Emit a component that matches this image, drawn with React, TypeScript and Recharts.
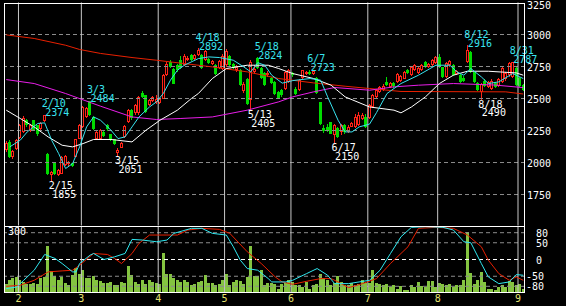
import React from 'react';
import { Bar, ComposedChart, Line, ReferenceDot, ReferenceLine, XAxis, YAxis } from 'recharts';

// daily candles, late Jan .. early Sep
const opens = [
  2097, 2161, 2044, 2109, 2188, 2239, 2330, 2247, 2330, 2291,
  2258, 2325, 2070, 1901, 1997, 1901, 1914, 1979, 1987, 1995,
  2044, 2187, 2278, 2356, 2480, 2356, 2187, 2187, 2240, 2290,
  2220, 2180, 2075, 2117, 2200, 2317, 2409, 2383, 2383, 2540,
  2526, 2448, 2480, 2470, 2465, 2500, 2682, 2786, 2734, 2760,
  2799, 2765, 2800, 2840, 2810, 2838, 2838, 2799, 2810, 2770,
  2760, 2740, 2730, 2760, 2830, 2770, 2720, 2720, 2560, 2650,
  2487, 2705, 2815, 2737, 2698, 2680, 2659, 2630, 2552, 2565,
  2578, 2630, 2700, 2578, 2565, 2659, 2690, 2710, 2690, 2659,
  2470, 2270, 2280, 2315, 2213, 2268, 2235, 2291, 2240, 2280,
  2278, 2291, 2340, 2356, 2346, 2434, 2513, 2549, 2570, 2627,
  2590, 2620, 2627, 2640, 2656, 2721, 2682, 2721, 2700, 2721,
  2784, 2745, 2760, 2776, 2823, 2745, 2668, 2760, 2760, 2690,
  2682, 2660, 2787, 2860, 2705, 2620, 2551, 2640, 2590, 2575,
  2620, 2600, 2630, 2650, 2680, 2668, 2737, 2659, 2604,
];
const highs = [
  2170, 2175, 2100, 2185, 2300, 2360, 2340, 2300, 2335, 2295,
  2318, 2374, 2075, 1935, 2000, 1950, 2050, 2060, 2015, 2000,
  2185, 2300, 2445, 2430, 2484, 2360, 2245, 2260, 2245, 2300,
  2225, 2185, 2110, 2160, 2290, 2415, 2415, 2455, 2520, 2560,
  2530, 2495, 2520, 2530, 2505, 2690, 2785, 2800, 2740, 2770,
  2830, 2845, 2830, 2850, 2850, 2892, 2845, 2880, 2820, 2800,
  2770, 2800, 2845, 2890, 2840, 2780, 2760, 2730, 2630, 2660,
  2800, 2760, 2824, 2745, 2710, 2715, 2670, 2640, 2560, 2575,
  2715, 2730, 2710, 2590, 2650, 2726, 2715, 2723, 2722, 2670,
  2475, 2290, 2300, 2320, 2300, 2280, 2300, 2300, 2290, 2320,
  2380, 2395, 2385, 2380, 2455, 2535, 2575, 2595, 2610, 2669,
  2630, 2630, 2700, 2685, 2715, 2730, 2750, 2770, 2750, 2770,
  2795, 2780, 2805, 2830, 2851, 2750, 2785, 2800, 2770, 2725,
  2690, 2675, 2916, 2870, 2715, 2630, 2625, 2650, 2640, 2650,
  2630, 2660, 2745, 2710, 2785, 2787, 2745, 2670, 2615,
];
const lows = [
  2085, 2035, 2025, 2100, 2180, 2230, 2280, 2240, 2245, 2210,
  2250, 2318, 1905, 1855, 1900, 1892, 1910, 1975, 1975, 1962,
  2040, 2180, 2270, 2345, 2360, 2255, 2180, 2180, 2200, 2250,
  2165, 2135, 2051, 2110, 2195, 2310, 2335, 2375, 2375, 2505,
  2390, 2440, 2470, 2460, 2455, 2495, 2675, 2740, 2610, 2710,
  2730, 2755, 2790, 2790, 2800, 2830, 2730, 2790, 2770, 2760,
  2680, 2730, 2720, 2750, 2750, 2730, 2710, 2595, 2540, 2450,
  2405, 2690, 2730, 2650, 2595, 2670, 2610, 2530, 2495, 2515,
  2570, 2620, 2670, 2530, 2555, 2650, 2680, 2685, 2680, 2535,
  2295, 2230, 2240, 2220, 2150, 2195, 2215, 2225, 2230, 2275,
  2270, 2285, 2330, 2270, 2340, 2425, 2505, 2540, 2560, 2595,
  2580, 2585, 2620, 2630, 2650, 2690, 2675, 2715, 2695, 2715,
  2740, 2740, 2755, 2770, 2740, 2660, 2660, 2750, 2675, 2680,
  2625, 2630, 2780, 2700, 2620, 2560, 2490, 2590, 2580, 2565,
  2580, 2590, 2620, 2640, 2670, 2660, 2600, 2590, 2560,
];
const closes = [
  2153, 2044, 2090, 2174, 2291, 2344, 2291, 2291, 2252, 2220,
  2310, 2370, 1914, 1927, 1908, 1940, 2044, 2049, 2005, 1970,
  2180, 2291, 2434, 2422, 2375, 2265, 2239, 2252, 2210, 2260,
  2174, 2143, 2100, 2153, 2283, 2409, 2344, 2448, 2513, 2513,
  2395, 2487, 2510, 2500, 2495, 2682, 2773, 2747, 2617, 2721,
  2740, 2835, 2815, 2800, 2840, 2877, 2737, 2870, 2780, 2790,
  2690, 2790, 2835, 2870, 2760, 2740, 2745, 2604, 2610, 2460,
  2786, 2730, 2740, 2659, 2604, 2700, 2620, 2539, 2500, 2526,
  2708, 2721, 2680, 2539, 2643, 2721, 2705, 2695, 2716, 2541,
  2300, 2250, 2250, 2226, 2291, 2200, 2291, 2235, 2278, 2305,
  2356, 2370, 2375, 2278, 2448, 2526, 2565, 2588, 2600, 2604,
  2620, 2595, 2693, 2675, 2708, 2698, 2745, 2760, 2740, 2760,
  2745, 2770, 2799, 2823, 2745, 2668, 2776, 2790, 2682, 2715,
  2630, 2640, 2877, 2708, 2630, 2570, 2617, 2600, 2630, 2640,
  2590, 2650, 2737, 2700, 2776, 2784, 2604, 2596, 2565,
];
const volumes = [
  42, 60, 65, 72, 57, 50, 42, 42, 45, 42,
  65, 72, 210, 99, 75, 57, 72, 45, 35, 80,
  110, 87, 102, 69, 69, 75, 57, 54, 45, 45,
  50, 35, 35, 50, 45, 120, 80, 50, 42, 57,
  39, 60, 50, 45, 39, 180, 87, 84, 65, 60,
  50, 57, 50, 35, 42, 50, 52, 80, 45, 45,
  35, 39, 60, 84, 35, 50, 60, 54, 42, 72,
  210, 75, 75, 102, 35, 45, 45, 42, 20, 42,
  45, 60, 50, 35, 35, 27, 50, 20, 35, 42,
  84, 65, 60, 35, 45, 75, 50, 35, 35, 45,
  35, 39, 57, 45, 45, 102, 45, 42, 35, 39,
  27, 35, 20, 30, 12, 12, 35, 27, 50, 30,
  27, 52, 52, 27, 45, 39, 35, 39, 27, 35,
  35, 60, 273, 90, 42, 57, 94, 50, 20, 20,
  15, 27, 35, 27, 52, 50, 35, 42, 20,
];

// moving averages as [day index, price]
const maShort: [number, number][] = [
  [1, 2122], [4, 2174], [6, 2239], [9, 2305], [11, 2310], [13, 2174], [15, 2070], [17, 1953],
  [19, 1992], [21, 2122], [23, 2278], [25, 2356], [27, 2330], [30, 2252], [32, 2187], [34, 2200],
  [36, 2278], [38, 2356], [41, 2434], [43, 2474], [45, 2541], [47, 2643], [49, 2721], [51, 2760],
  [55, 2812], [58, 2825], [61, 2820], [65, 2799], [68, 2747], [70, 2708], [72, 2780], [74, 2760],
  [76, 2682], [79, 2620], [82, 2640], [87, 2656], [90, 2643], [92, 2513], [95, 2330], [97, 2239],
  [99, 2239], [101, 2278], [104, 2300], [106, 2390], [109, 2539], [113, 2617], [118, 2682],
  [123, 2760], [127, 2760], [129, 2708], [131, 2682], [133, 2734], [136, 2669], [138, 2617],
  [141, 2630], [145, 2695], [148, 2656],
];
const maMid: [number, number][] = [
  [0, 2409], [4, 2344], [8, 2278], [12, 2200], [16, 2135], [19, 2122], [22, 2148], [25, 2180],
  [30, 2180], [36, 2161], [40, 2252], [44, 2330], [49, 2409], [53, 2500], [55, 2539], [59, 2656],
  [63, 2734], [69, 2760], [75, 2760], [78, 2734], [82, 2695], [88, 2656], [93, 2604], [97, 2513],
  [104, 2434], [111, 2409], [113, 2388], [116, 2434], [120, 2513], [124, 2617], [128, 2682],
  [132, 2713], [138, 2713], [146, 2700], [148, 2682],
];
const maLong: [number, number][] = [
  [0, 2648], [8, 2617], [17, 2539], [27, 2440], [36, 2356], [43, 2336], [50, 2344], [59, 2356],
  [69, 2409], [78, 2474], [82, 2513], [88, 2552], [94, 2586], [104, 2565], [111, 2591],
  [118, 2604], [128, 2617], [140, 2605], [148, 2585],
];
const maYear: [number, number][] = [
  [0, 2997], [8, 2969], [17, 2916], [21, 2883], [27, 2852], [36, 2820], [43, 2799], [50, 2776],
  [59, 2747], [69, 2708], [78, 2656], [88, 2622], [97, 2596], [104, 2578], [113, 2555],
  [143, 2552], [148, 2535],
];

// oscillator panel, [day index, value]
const oscFast: [number, number][] = [
  [0, -87], [3, -82], [5, -62], [8, -32], [11, 15], [14, 3], [16, -12], [19, -37], [20, -37],
  [21, -12], [24, 13], [25, 18], [28, 0], [31, 8], [34, 18], [36, 60], [39, 58], [43, 53],
  [46, 58], [48, 78], [53, 93], [56, 93], [59, 78], [63, 73], [65, 38], [67, -2], [69, -27],
  [72, -32], [75, -57], [76, -67], [80, -67], [82, -62], [86, -42], [89, -27], [92, -47],
  [94, -72], [98, -72], [101, -67], [104, -62], [107, -32], [110, 18], [113, 68], [116, 96],
  [120, 98], [125, 96], [128, 88], [131, 53], [133, 50], [136, -12], [138, -52], [141, -72],
  [144, -67], [146, -45], [148, -47],
];
const oscSlow: [number, number][] = [
  [0, -80], [4, -77], [8, -62], [12, -37], [16, -34], [19, -32], [21, -17], [25, 18], [29, 15],
  [31, 3], [33, -12], [36, 18], [38, 48], [41, 73], [46, 73], [49, 73], [52, 88], [56, 93],
  [61, 90], [64, 78], [69, 23], [73, -12], [77, -52], [79, -67], [82, -74], [86, -65], [90, -57],
  [93, -57], [95, -67], [98, -84], [102, -72], [106, -57], [110, -12], [115, 38], [118, 93],
  [123, 96], [128, 93], [132, 73], [136, 38], [138, -2], [141, -42], [144, -62], [146, -52],
  [148, -62],
];

const peakMarks = [
  { i: 11, date: '2/10', price: 2374 },
  { i: 24, date: '3/3', price: 2484 },
  { i: 55, date: '4/18', price: 2892 },
  { i: 72, date: '5/18', price: 2824 },
  { i: 87, date: '6/7', price: 2723 },
  { i: 132, date: '8/12', price: 2916 },
  { i: 145, date: '8/31', price: 2787 },
];
const troughMarks = [
  { i: 13, date: '2/15', price: 1855 },
  { i: 32, date: '3/15', price: 2051 },
  { i: 70, date: '5/13', price: 2405 },
  { i: 94, date: '6/17', price: 2150 },
  { i: 136, date: '8/18', price: 2490 },
];

const monthStarts = [4, 22, 44, 63, 82, 104, 124, 147];
const monthLabels = ['2', '3', '4', '5', '6', '7', '8', '9'];
const priceTicks = [3250, 3000, 2750, 2500, 2250, 2000, 1750];
const priceGrid = [3000, 2750, 2500, 2250, 2000, 1750];
const oscTicks = [80, 50, 0, -50, -80];
const volumeMax = 300;

const MONO = '"DejaVu Sans Mono", monospace';
const UP = '#ff2418';
const DOWN = '#00dc00';
const CYAN = '#38e4f0';
const VOL = '#84c440';
const YEL = '#e8e470';

const shortMap = new Map(maShort);
const midMap = new Map(maMid);
const longMap = new Map(maLong);
const yearMap = new Map(maYear);
const fastMap = new Map(oscFast);
const slowMap = new Map(oscSlow);

const rows = closes.map((c, i) => ({
  i,
  o: opens[i],
  h: highs[i],
  l: lows[i],
  c,
  v: volumes[i],
  maShort: shortMap.get(i) ?? null,
  maMid: midMap.get(i) ?? null,
  maLong: longMap.get(i) ?? null,
  maYear: yearMap.get(i) ?? null,
  oscFast: fastMap.get(i) ?? null,
  oscSlow: slowMap.get(i) ?? null,
}));

function Candle(props: any) {
  const { x, y, width, height, payload } = props;
  if (x == null || y == null || !payload) return null;
  const { o, h, l, c } = payload;
  const top = Math.min(y, y + height);
  const span = Math.abs(height);
  const k = h > l ? span / (h - l) : 0;
  const py = (v: number) => top + (h - v) * k;
  const px = Math.floor(x + width / 2);
  const up = c >= o;
  const color = up ? UP : DOWN;
  const bTop = Math.round(py(Math.max(o, c)));
  const bBot = Math.max(bTop + 1, Math.round(py(Math.min(o, c))));
  return (
    <g>
      <line x1={px + 0.5} x2={px + 0.5} y1={Math.round(top)} y2={Math.round(top + span)} stroke={color} />
      {up ? (
        <rect x={px - 0.5} y={bTop + 0.5} width={2} height={Math.max(bBot - bTop - 1, 0)} fill='#000' stroke={color} />
      ) : (
        <rect x={px - 1} y={bTop} width={3} height={bBot - bTop} fill={color} />
      )}
    </g>
  );
}

function VolumeBar(props: any) {
  const { x, y, width, height } = props;
  if (x == null || y == null) return null;
  const px = Math.floor(x + width / 2);
  const top = Math.round(y);
  const bottom = Math.round(y + height);
  return <rect x={px - 1} y={top} width={3} height={Math.max(bottom - top, 0)} fill={VOL} />;
}

const PriceTick = ({ y, payload }: any) => (
  <text x={527} y={Math.max(y + 4.5, 8.5)} fill='#fff' fontSize={10} fontFamily={MONO}>
    {payload.value}
  </text>
);

const OscTick = ({ y, payload }: any) => (
  <text x={payload.value < 0 ? 526 : 536} y={y + 4} fill='#fff' fontSize={10} fontFamily={MONO}>
    {payload.value}
  </text>
);

const MonthTick = ({ x, payload }: any) => {
  const idx = monthStarts.indexOf(payload.value + 0.5);
  return (
    <text x={x} y={76} textAnchor='middle' fill={YEL} fontSize={10} fontFamily={MONO}>
      {monthLabels[idx]}
    </text>
  );
};

function PeakLabel({ cx, cy, date, price }: any) {
  return (
    <text fill={CYAN} fontSize={10} fontFamily={MONO}>
      <tspan x={cx - 3} y={cy - 7.5}>{date}</tspan>
      <tspan x={cx + 0.5} y={cy + 1.5}>{price}</tspan>
    </text>
  );
}

function TroughLabel({ cx, cy, date, price }: any) {
  return (
    <text fill='#fff' fontSize={10} fontFamily={MONO}>
      <tspan x={cx - 3} y={cy + 7.8}>{date}</tspan>
      <tspan x={cx + 0.5} y={cy + 16.6}>{price}</tspan>
    </text>
  );
}

export default function App() {
  return (
    <div style={{ position: 'fixed', left: 0, top: 0, width: 566, height: 306, background: '#000' }}>
      <div style={{ position: 'absolute', left: 0, top: 0 }}>
        <ComposedChart width={566} height={226} data={rows} margin={{ top: 2.5, right: 0, bottom: 0.5, left: 4.5 }}>
          <XAxis dataKey='i' type='number' domain={[-0.5, 148.5]} hide allowDataOverflow />
          <YAxis
            yAxisId='price'
            orientation='right'
            width={41}
            domain={[1508, 3250]}
            ticks={priceTicks}
            interval={0}
            axisLine={false}
            tickLine={false}
            tick={PriceTick}
            allowDataOverflow
          />
          {priceGrid.map((v) => (
            <ReferenceLine key={v} yAxisId='price' y={v} stroke='#8c8c8c' strokeDasharray='4 3' />
          ))}
          {monthStarts.map((m) => (
            <ReferenceLine key={m} yAxisId='price' x={m - 0.5} stroke='#c8c8c8' />
          ))}
          <Bar
            yAxisId='price'
            dataKey={(d: any) => [d.l, d.h]}
            barSize={3}
            shape={Candle}
            isAnimationActive={false}
          />
          <Line yAxisId='price' dataKey='maYear' stroke='#e82000' dot={false} connectNulls isAnimationActive={false} />
          <Line yAxisId='price' dataKey='maLong' stroke='#e81ee8' dot={false} connectNulls isAnimationActive={false} />
          <Line yAxisId='price' dataKey='maMid' stroke='#ffffff' dot={false} connectNulls isAnimationActive={false} />
          <Line yAxisId='price' dataKey='maShort' stroke={CYAN} dot={false} connectNulls isAnimationActive={false} />
          {peakMarks.map((m) => (
            <ReferenceDot
              key={m.date}
              yAxisId='price'
              x={m.i}
              y={m.price}
              r={0}
              ifOverflow='visible'
              shape={(p: any) => <PeakLabel cx={p.cx} cy={p.cy} date={m.date} price={m.price} />}
            />
          ))}
          {troughMarks.map((m) => (
            <ReferenceDot
              key={m.date}
              yAxisId='price'
              x={m.i}
              y={m.price}
              r={0}
              ifOverflow='visible'
              shape={(p: any) => <TroughLabel cx={p.cx} cy={p.cy} date={m.date} price={m.price} />}
            />
          ))}
        </ComposedChart>
      </div>
      <div style={{ position: 'absolute', left: 0, top: 226 }}>
        <ComposedChart width={566} height={80} data={rows} margin={{ top: 0, right: 0, bottom: 0, left: 4.5 }}>
          <XAxis
            dataKey='i'
            type='number'
            domain={[-0.5, 148.5]}
            ticks={monthStarts.map((m) => m - 0.5)}
            interval={0}
            height={13}
            axisLine={false}
            tickLine={false}
            tick={MonthTick}
            allowDataOverflow
          />
          <YAxis
            yAxisId='osc'
            orientation='right'
            width={41}
            domain={[-100, 100]}
            ticks={oscTicks}
            interval={0}
            axisLine={false}
            tickLine={false}
            tick={OscTick}
          />
          <YAxis yAxisId='vol' hide domain={[0, volumeMax]} />
          {oscTicks.map((v) => (
            <ReferenceLine
              key={v}
              yAxisId='osc'
              y={v}
              stroke={v === 0 ? '#ffffff' : '#8c8c8c'}
              strokeDasharray='4 3'
            />
          ))}
          {monthStarts.map((m) => (
            <ReferenceLine key={m} yAxisId='osc' x={m - 0.5} stroke='#c8c8c8' />
          ))}
          <Bar yAxisId='vol' dataKey='v' barSize={3} fill={VOL} shape={VolumeBar} isAnimationActive={false} />
          <Line yAxisId='osc' dataKey='oscSlow' stroke='#e82000' dot={false} connectNulls isAnimationActive={false} />
          <Line yAxisId='osc' dataKey='oscFast' stroke='#30e8f0' dot={false} connectNulls isAnimationActive={false} />
        </ComposedChart>
      </div>
      <svg width={566} height={306} style={{ position: 'absolute', left: 0, top: 0, pointerEvents: 'none' }}>
        <g stroke='#ffffff' strokeWidth={1} fill='none'>
          <line x1={4} x2={525} y1={3.5} y2={3.5} />
          <line x1={4.5} x2={4.5} y1={3} y2={293} />
          <line x1={524.5} x2={524.5} y1={3} y2={293} />
          <line x1={4} x2={525} y1={226.5} y2={226.5} />
          <line x1={4} x2={525} y1={292.5} y2={292.5} />
        </g>
        <text x={8} y={235} fill='#fff' fontSize={10} fontFamily={MONO}>
          {volumeMax}
        </text>
      </svg>
    </div>
  );
}
